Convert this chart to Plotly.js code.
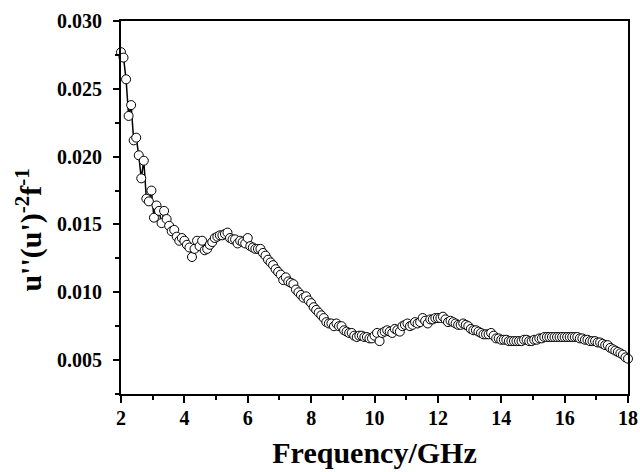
<!DOCTYPE html>
<html>
<head>
<meta charset="utf-8">
<script src="https://cdn.plot.ly/plotly-3.0.1.min.js"></script>
<style>html,body{margin:0;padding:0;background:#fff;}#chart{width:640px;height:472px;}</style>
</head>
<body>
<div id="chart"></div>
<script>
var frequencyGHz = [
2.00,2.08,2.16,2.24,2.32,2.40,2.48,2.56,2.64,2.72,2.80,2.88,2.96,3.04,3.12,3.20,3.28,3.36,3.44,3.52,
3.60,3.68,3.76,3.84,3.92,4.00,4.08,4.16,4.24,4.32,4.40,4.48,4.56,4.64,4.72,4.80,4.88,4.96,5.04,5.12,
5.20,5.28,5.36,5.44,5.52,5.60,5.68,5.76,5.84,5.92,6.00,6.08,6.16,6.24,6.32,6.40,6.48,6.56,6.64,6.72,
6.80,6.88,6.96,7.04,7.12,7.20,7.28,7.36,7.44,7.52,7.60,7.68,7.76,7.84,7.92,8.00,8.08,8.16,8.24,8.32,
8.40,8.48,8.56,8.64,8.72,8.80,8.88,8.96,9.04,9.12,9.20,9.28,9.36,9.44,9.52,9.60,9.68,9.76,9.84,9.92,
10.00,10.08,10.16,10.24,10.32,10.40,10.48,10.56,10.64,10.72,10.80,10.88,10.96,11.04,11.12,11.20,11.28,11.36,11.44,11.52,
11.60,11.68,11.76,11.84,11.92,12.00,12.08,12.16,12.24,12.32,12.40,12.48,12.56,12.64,12.72,12.80,12.88,12.96,13.04,13.12,
13.20,13.28,13.36,13.44,13.52,13.60,13.68,13.76,13.84,13.92,14.00,14.08,14.16,14.24,14.32,14.40,14.48,14.56,14.64,14.72,
14.80,14.88,14.96,15.04,15.12,15.20,15.28,15.36,15.44,15.52,15.60,15.68,15.76,15.84,15.92,16.00,16.08,16.16,16.24,16.32,
16.40,16.48,16.56,16.64,16.72,16.80,16.88,16.96,17.04,17.12,17.20,17.28,17.36,17.44,17.52,17.60,17.68,17.76,17.84,17.92,
18.00
];
var tangentRatio = [
0.0277,0.0273,0.0257,0.0230,0.0238,0.0212,0.0214,0.0201,0.0184,0.0197,0.0169,0.0167,0.0175,0.0155,0.0164,0.0160,0.0151,0.0160,0.0154,0.0149,
0.0145,0.0146,0.0141,0.0138,0.0140,0.0138,0.0135,0.0133,0.0126,0.0132,0.0138,0.0134,0.0138,0.0131,0.0132,0.0135,0.0137,0.0140,0.0141,0.0142,
0.0142,0.0143,0.0144,0.0140,0.0139,0.0139,0.0136,0.0138,0.0137,0.0136,0.0140,0.0134,0.0133,0.0132,0.0132,0.0132,0.0129,0.0127,0.0124,0.0122,
0.0120,0.0117,0.0115,0.0113,0.0109,0.0111,0.0108,0.0107,0.0106,0.0102,0.0100,0.0098,0.0096,0.0097,0.0094,0.0092,0.0089,0.0087,0.0085,0.0083,
0.0081,0.0078,0.0077,0.0077,0.0075,0.0077,0.0075,0.0075,0.0072,0.0071,0.0070,0.0070,0.0068,0.0067,0.0068,0.0068,0.0067,0.0067,0.0066,0.0066,
0.0068,0.0070,0.0064,0.0070,0.0071,0.0072,0.0071,0.0070,0.0073,0.0072,0.0071,0.0075,0.0076,0.0077,0.0075,0.0076,0.0078,0.0077,0.0078,0.0081,
0.0079,0.0077,0.0080,0.0080,0.0081,0.0081,0.0081,0.0082,0.0080,0.0078,0.0079,0.0078,0.0077,0.0076,0.0076,0.0077,0.0076,0.0075,0.0073,0.0072,
0.0072,0.0071,0.0070,0.0069,0.0069,0.0069,0.0070,0.0068,0.0066,0.0066,0.0065,0.0065,0.0065,0.0064,0.0064,0.0064,0.0064,0.0064,0.0064,0.0065,
0.0065,0.0064,0.0064,0.0065,0.0065,0.0066,0.0066,0.0067,0.0067,0.0067,0.0067,0.0067,0.0067,0.0067,0.0067,0.0067,0.0067,0.0067,0.0067,0.0067,
0.0067,0.0066,0.0066,0.0065,0.0065,0.0064,0.0064,0.0064,0.0063,0.0063,0.0062,0.0061,0.0061,0.0059,0.0058,0.0057,0.0056,0.0055,0.0054,0.0052,
0.0051
];
var xTickVals = [2,4,6,8,10,12,14,16,18];
var yTickVals = [0.005,0.010,0.015,0.020,0.025,0.030];
var yTickText = ['0.005','0.010','0.015','0.020','0.025','0.030'];
var xTitle = 'Frequency/GHz';
var yTitle = "u''(u')<sup>-2</sup>f<sup>-1</sup>";

var trace = {
  x: frequencyGHz,
  y: tangentRatio,
  type: 'scatter',
  mode: 'lines+markers',
  line: {color: '#000', width: 1.5},
  marker: {symbol: 'circle', size: 9, color: '#fff', line: {color: '#000', width: 1}},
  cliponaxis: false,
  hoverinfo: 'none'
};

var fontFam = '"Liberation Serif", "Times New Roman", serif';
var layout = {
  width: 640, height: 472,
  margin: {l: 121, r: 12, t: 21, b: 78},
  paper_bgcolor: '#fff', plot_bgcolor: '#fff',
  font: {family: fontFam, color: '#000', size: 20, weight: 'bold'},
  showlegend: false,
  xaxis: {
    range: [2, 18],
    tickvals: xTickVals,
    ticks: 'outside', ticklen: 7, tickwidth: 2, tickcolor: '#000',
    ticklabelstandoff: -2,
    minor: {dtick: 1, ticks: 'outside', ticklen: 4, tickwidth: 2, tickcolor: '#000', showgrid: false},
    showline: true, linecolor: '#000', linewidth: 2, mirror: true,
    showgrid: false, zeroline: false,
    tickfont: {family: fontFam, size: 20, weight: 'bold', color: '#000'},
    title: {text: xTitle, font: {family: fontFam, size: 30, weight: 'bold', color: '#000'}, standoff: 14}
  },
  yaxis: {
    range: [0.0025, 0.030],
    tickvals: yTickVals, ticktext: yTickText,
    ticks: 'outside', ticklen: 6, tickwidth: 2, tickcolor: '#000',
    ticklabelstandoff: 7,
    minor: {dtick: 0.0025, tick0: 0, ticks: 'outside', ticklen: 4, tickwidth: 2, tickcolor: '#000', showgrid: false},
    showline: true, linecolor: '#000', linewidth: 2, mirror: true,
    showgrid: false, zeroline: false,
    tickfont: {family: fontFam, size: 20, weight: 'bold', color: '#000'}
  },
  annotations: [{
    text: yTitle, textangle: -90,
    xref: 'paper', yref: 'paper', x: -0.18, y: 0.44,
    xanchor: 'center', yanchor: 'middle', showarrow: false,
    font: {family: fontFam, size: 30, weight: 'bold', color: '#000'}
  }]
};

Plotly.newPlot('chart', [trace], layout, {staticPlot: true, displayModeBar: false});
</script>
</body>
</html>
